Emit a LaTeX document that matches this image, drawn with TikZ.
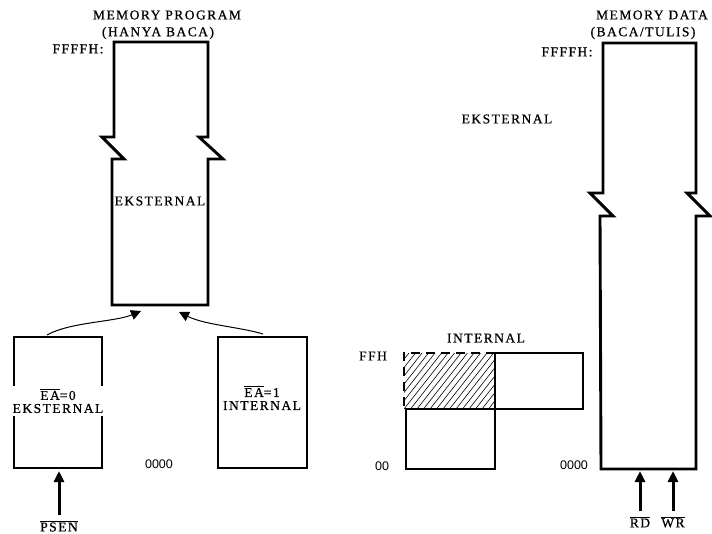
\documentclass[tikz,border=0pt]{standalone}
\usepackage{fontspec}
\setmainfont{Liberation Serif}[LetterSpace=11, FakeBold=0.6]
\newfontfamily\numfont{Liberation Sans}
\usetikzlibrary{arrows.meta}

\tikzset{
  wall/.style={line width=2.9pt, line join=miter},
  dashwall/.style={line width=2.9pt, dash pattern=on 9pt off 6pt},
  lbl/.style={font=\fontsize{13.5}{15}\selectfont, inner sep=0pt, align=center},
  addr/.style={font=\numfont\fontsize{12.5}{13}\selectfont, inner sep=0pt},
  feed/.style={-{Triangle[length=10pt,width=10pt]}, line width=1pt},
  strobe/.style={-{Triangle[length=11pt,width=10pt]}, line width=3pt},
  hatch/.style={line width=0.6pt},
}
\newcommand{\ovl}[1]{$\overline{\mbox{#1}}$}

\begin{document}
\begin{tikzpicture}[x=1pt,y=-1pt]
\useasboundingbox[fill=white] (0,0) rectangle (712,533);

% ---------- program memory column ----------
\draw[wall] (112,305) -- (112,159) -- (124,159) -- (102,137) -- (114,137)
  -- (114,42) -- (208,42) -- (208,137) -- (199,137) -- (223,159) -- (208,159)
  -- (208,305) -- cycle;
\coordinate (pgmL) at (141,311);
\coordinate (pgmR) at (179,312);
\node[lbl] (pgmtitle) at (167,15) {MEMORY PROGRAM};
\node[lbl] (pgmsub) at (158,33) {(HANYA BACA)};
\node[lbl] (pgmtop) at (78,49) {FFFFH:};
\node[lbl] (pgmext) at (160,201) {EKSTERNAL};

% ---------- external / internal choice boxes ----------
\draw[wall] (14,337) rectangle (102,468);
\draw[wall] (218,337) rectangle (307,468);
\node[lbl, fill=white, inner ysep=3pt, inner xsep=1pt] (ea0) at (58,401)
  {\ovl{EA}=0\\[-2pt]EKSTERNAL};
\node[lbl] (ea1) at (262,398) {\ovl{EA}=1\\[-2pt]INTERNAL};
\node[addr] (pgmzero) at (159,464) {0000};
\coordinate (extTop) at (47,335);
\coordinate (intTop) at (263,334);
\draw[feed] (extTop) .. controls (70,322) and (115,322) .. (pgmL);
\draw[feed] (intTop) .. controls (240,327) and (205,325) .. (pgmR);

% PSEN strobe
\node[lbl] (psen) at (59,526) {\ovl{PSEN}};
\coordinate (psenTip) at (59,471);
\draw[strobe] (psen.north) ++(0,-5) coordinate (psenFoot) (psenFoot) -- (psenTip);

% ---------- internal data memory ----------
\begin{scope}
  \clip (404,353) rectangle (495,409);
  \foreach \k in {-14,...,18} {
    \draw[hatch] (404+\k*6.5,409) -- ++(55,-70);
  }
\end{scope}
\draw[dashwall] (495,353) -- (404,353) -- (404,409);
\draw[wall] (495,353) rectangle (583,409);
\draw[wall] (406,409) rectangle (495,469);
\node[lbl] (intlbl) at (486,338) {INTERNAL};
\node[lbl] (ffh) at (373,356) {FFH};
\node[addr] (intzero) at (382,466) {00};

% ---------- data memory column ----------
\draw[wall] (601,469) -- (600,216) -- (613,216) -- (590,193) -- (603,193)
  -- (603,43) -- (696,43) -- (696,193) -- (687,193) -- (710,216) -- (696,216)
  -- (696,469) -- cycle;
\node[lbl] (dattitle) at (652,15) {MEMORY DATA};
\node[lbl] (datsub) at (643,33) {(BACA/TULIS)};
\node[lbl] (dattop) at (567,52) {FFFFH:};
\node[lbl] (datext) at (507,119) {EKSTERNAL};
\node[addr] (datzero) at (574,465) {0000};

% RD / WR strobes
\node[lbl] (rd) at (640,522) {\ovl{RD}};
\node[lbl] (wr) at (673,522) {\ovl{WR}};
\coordinate (rdTip) at (640,471);
\coordinate (wrTip) at (673,471);
\draw[strobe] (rd.north) ++(0,-5) coordinate (rdFoot) (rdFoot) -- (rdTip);
\draw[strobe] (wr.north) ++(0,-5) coordinate (wrFoot) (wrFoot) -- (wrTip);
\end{tikzpicture}
\end{document}
